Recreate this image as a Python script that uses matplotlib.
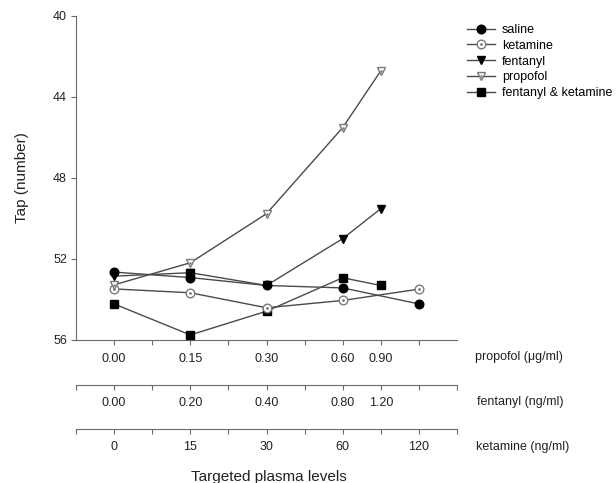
import matplotlib.pyplot as plt
from matplotlib.lines import Line2D
from matplotlib.legend_handler import HandlerTuple

plt.rcParams['font.family'] = ['Liberation Sans', 'DejaVu Sans']

# slot positions along the shared x axis (0..10)
slots_ab = [1, 3, 5, 7, 9]   # saline, ketamine
slots_c = [1, 3, 5, 7, 8]    # fentanyl, propofol, fentanyl & ketamine

saline = [52.65, 52.92, 53.31, 53.43, 54.22]
ketamine = [53.48, 53.67, 54.41, 54.05, 53.49]
fentanyl = [52.85, 52.68, 53.31, 51.0, 49.52]
propofol = [53.28, 52.19, 49.77, 45.52, 42.72]
fent_ket = [54.22, 55.75, 54.58, 52.93, 53.31]

propofol_ticks = {1: '0.00', 3: '0.15', 5: '0.30', 7: '0.60', 8: '0.90'}
fentanyl_ticks = {1: '0.00', 3: '0.20', 5: '0.40', 7: '0.80', 8: '1.20'}
ketamine_ticks = {1: '0', 3: '15', 5: '30', 7: '60', 9: '120'}

line_col = '#4a4a4a'
open_col = '#7a7a7a'
spine_col = '#6a6a6a'

fig = plt.figure(figsize=(6.16, 4.83), dpi=100)
ax = fig.add_axes([76/616, 1-340/483, 381/616, 324.3/483])

ms = 6.2
ms_tri = 5.8
ax.plot(slots_c, fent_ket, color=line_col, lw=1, marker='s', ms=ms - 0.7,
        mfc='black', mec='black', zorder=3)
ax.plot(slots_ab, ketamine, color=line_col, lw=1, marker='o', ms=ms,
        mfc='white', mec=open_col, zorder=3)
ax.plot(slots_ab, ketamine, ls='none', marker='.', ms=2, color=open_col, zorder=4)
ax.plot(slots_c, propofol, color=line_col, lw=1, marker='v', ms=ms_tri,
        mfc='white', mec=open_col, zorder=3)
ax.plot(slots_c, propofol, ls='none', marker='.', ms=1.5, color=open_col, zorder=4)
ax.plot(slots_c, fentanyl, color=line_col, lw=1, marker='v', ms=ms_tri,
        mfc='black', mec='black', zorder=3)
# the 0.15 fentanyl point is drawn as a square in the original figure
ax.plot(slots_c[1], fentanyl[1], ls='none', marker='s', ms=ms - 0.7,
        color='black', zorder=5)
ax.plot(slots_ab, saline, color=line_col, lw=1, marker='o', ms=ms,
        mfc='black', mec='black', zorder=4)

ax.set_xlim(0, 10)
ax.set_ylim(56, 40)
ax.set_yticks([40, 44, 48, 52, 56])
ax.set_xticks(range(1, 10))
ax.set_xticklabels([propofol_ticks.get(i, '') for i in range(1, 10)])
for s in ['top', 'right']:
    ax.spines[s].set_visible(False)
for s in ['left', 'bottom']:
    ax.spines[s].set_color(spine_col)
ax.tick_params(axis='both', colors=spine_col, labelcolor='#222222',
               length=3.5, labelsize=9)
ax.tick_params(axis='x', pad=6)
ax.tick_params(axis='y', pad=3)
ax.set_ylabel('Tap (number)', fontsize=11, labelpad=17, color='#222222')

# extra x axes for the other drugs
for y0, ticks in [(1-385/483, fentanyl_ticks), (1-429/483, ketamine_ticks)]:
    sub = fig.add_axes([76/616, y0, 381/616, 0.0001])
    sub.set_xlim(0, 10)
    sub.set_yticks([])
    for s in ['top', 'right', 'left']:
        sub.spines[s].set_visible(False)
    sub.spines['bottom'].set_color(spine_col)
    sub.set_xticks(range(0, 11))
    sub.set_xticklabels([ticks.get(i, '') for i in range(0, 11)])
    sub.tick_params(axis='x', colors=spine_col, labelcolor='#222222',
                    length=3.5, labelsize=9, pad=5)
    sub.patch.set_visible(False)

fig.text(475/616, 1-357/483, 'propofol (\u03bcg/ml)', fontsize=9,
         va='center', color='#222222')
fig.text(477/616, 1-402/483, 'fentanyl (ng/ml)', fontsize=9,
         va='center', color='#222222')
fig.text(476/616, 1-447/483, 'ketamine (ng/ml)', fontsize=9,
         va='center', color='#222222')
fig.text(269/616, 1-477/483, 'Targeted plasma levels', fontsize=11,
         ha='center', va='center', color='#222222')

# legend
h_sal = Line2D([], [], color=line_col, lw=1, marker='o', ms=ms, mfc='black', mec='black')
h_ket = Line2D([], [], color=line_col, lw=1, marker='o', ms=ms, mfc='white', mec=open_col)
h_ket_dot = Line2D([], [], ls='none', marker='.', ms=2, color=open_col)
h_fen = Line2D([], [], color=line_col, lw=1, marker='v', ms=ms_tri, mfc='black', mec='black')
h_pro = Line2D([], [], color=line_col, lw=1, marker='v', ms=ms_tri, mfc='white', mec=open_col)
h_pro_dot = Line2D([], [], ls='none', marker='.', ms=1.5, color=open_col)
h_fk = Line2D([], [], color=line_col, lw=1, marker='s', ms=ms - 0.7, mfc='black', mec='black')
fig.legend([h_sal, (h_ket, h_ket_dot), h_fen, (h_pro, h_pro_dot), h_fk],
           ['saline', 'ketamine', 'fentanyl', 'propofol', 'fentanyl & ketamine'],
           handler_map={tuple: HandlerTuple(ndivide=1, pad=0)},
           loc='upper left', bbox_to_anchor=(467/616, 1-24/483),
           frameon=False, fontsize=9, borderpad=0, borderaxespad=0,
           handlelength=2.2, handletextpad=0.6, labelspacing=0.3)

fig.savefig('out.png', dpi=100)
